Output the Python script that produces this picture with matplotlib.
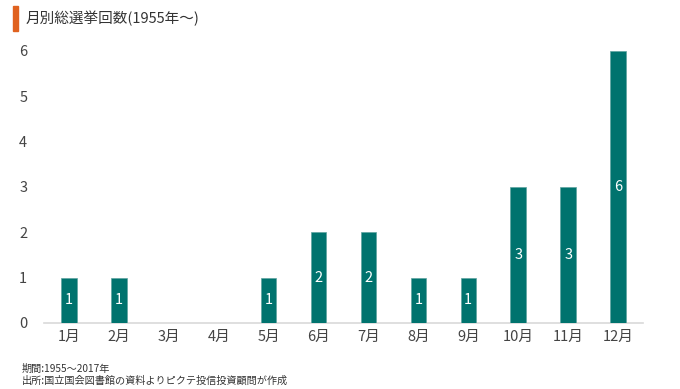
import matplotlib
matplotlib.use("Agg")
import matplotlib.pyplot as plt
from matplotlib.patches import Rectangle

plt.rcParams['font.family'] = ['Noto Sans CJK JP', 'DejaVu Sans']

months = ["1月", "2月", "3月", "4月", "5月", "6月", "7月", "8月", "9月", "10月", "11月", "12月"]
counts = [1, 1, 0, 0, 1, 2, 2, 1, 1, 3, 3, 6]
yticks = [0, 1, 2, 3, 4, 5, 6]
title = "月別総選挙回数(1955年～)"
note1 = "期間:1955～2017年"
note2 = "出所:国立国会図書館の資料よりピクテ投信投資顧問が作成"

fig = plt.figure(figsize=(6.8, 3.89), dpi=100)
ax = fig.add_axes([44/680, 1-323/389, (643-44)/680, (323-51)/389])

x = list(range(len(months)))
ax.bar(x, counts, width=0.31, color="#00736E", edgecolor="#5FA3A0", linewidth=0.5, zorder=3)
for xi, c in zip(x, counts):
    if c > 0:
        ax.text(xi, c/2, str(c), ha="center", va="center", color="white", fontsize=10.5, zorder=4)

ax.set_xlim(-0.5, 11.5)
ax.set_ylim(0, 6)
ax.set_xticks(x)
ax.set_xticklabels(months)
ax.set_yticks(yticks)
ax.tick_params(axis="both", length=0, labelsize=10.5, colors="#444444")
ax.tick_params(axis="y", pad=12)
ax.tick_params(axis="x", pad=5)
for s in ["top", "right", "left"]:
    ax.spines[s].set_visible(False)
ax.spines["bottom"].set_color("#D9D9D9")
ax.spines["bottom"].set_linewidth(1.2)

fig.patches.append(Rectangle((13/680, 1-31/389), 5/680, 25/389, transform=fig.transFigure,
                             color="#E0621F", figure=fig))
fig.text(26/680, 1-18/389, title, ha="left", va="center", fontsize=10.5, color="#333333")
fig.text(22/680, 1-369/389, note1, ha="left", va="center", fontsize=7.3, color="#333333")
fig.text(22/680, 1-381/389, note2, ha="left", va="center", fontsize=7.3, color="#333333")

fig.savefig("out.png", dpi=100)
